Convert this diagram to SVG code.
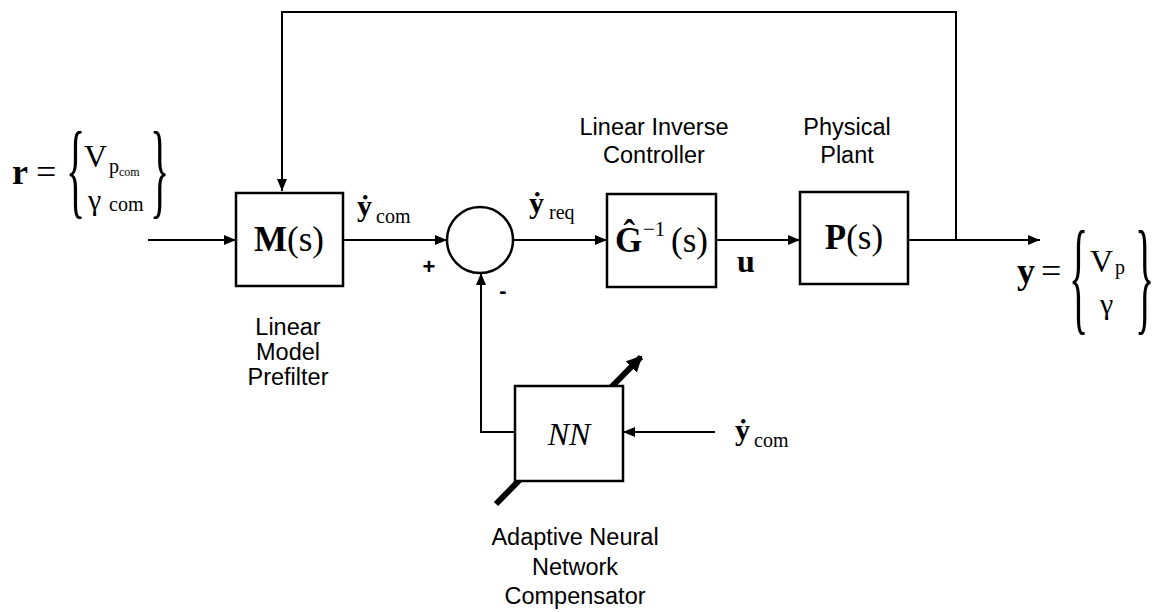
<svg xmlns="http://www.w3.org/2000/svg" width="1154" height="612" viewBox="0 0 1154 612">
<style>
.box{fill:#fff;stroke:#000;stroke-width:2.5}
.ln{fill:none;stroke:#000;stroke-width:2}
.lbl{font-family:"Liberation Sans",Arial,sans-serif;font-size:23.5px;fill:#000;text-anchor:middle}
.m{font-family:"Liberation Serif","DejaVu Serif",serif;fill:#000}
.b{font-weight:bold}
</style>
<defs>
<marker id="ah" viewBox="0 0 12 10" refX="12" refY="5" markerWidth="12" markerHeight="10" markerUnits="userSpaceOnUse" orient="auto">
<path d="M0,0 L12,5 L0,10 Z" fill="#000"/>
</marker>
<marker id="ahb" viewBox="0 0 16 16" refX="14" refY="8" markerWidth="16" markerHeight="16" markerUnits="userSpaceOnUse" orient="auto">
<path d="M0,0 L16,8 L0,16 Z" fill="#000"/>
</marker>
</defs>
<rect width="1154" height="612" fill="#fff"/>

<g id="connectors">
<line class="ln" x1="148" y1="240" x2="236" y2="240" marker-end="url(#ah)"/>
<line class="ln" x1="344" y1="240" x2="447" y2="240" marker-end="url(#ah)"/>
<line class="ln" x1="513" y1="240" x2="607" y2="240" marker-end="url(#ah)"/>
<line class="ln" x1="716" y1="240" x2="800" y2="240" marker-end="url(#ah)"/>
<line class="ln" x1="908" y1="240" x2="1040" y2="240" marker-end="url(#ah)"/>
<polyline class="ln" points="956,240 956,12 282,12 282,191" marker-end="url(#ah)"/>
<polyline class="ln" points="515,432 481,432 481,273" marker-end="url(#ah)"/>
<line class="ln" x1="715" y1="432" x2="623" y2="432" marker-end="url(#ah)"/>
<line x1="496" y1="504" x2="641" y2="357" stroke="#000" stroke-width="6" marker-end="url(#ahb)"/>
</g>

<g id="input-r">
<text class="m b" x="12" y="184" font-size="36">r</text>
<text class="m" x="36" y="184" font-size="36">=</text>
<text class="m" x="66" y="205" font-size="40" transform="translate(0,205) scale(1,2.66) translate(0,-205)">{</text>
<text class="m" x="84" y="167" font-size="32">V</text>
<text class="m" x="109" y="173" font-size="20">p</text>
<text class="m" x="119" y="176" font-size="12">com</text>
<text class="m" x="88" y="210" font-size="30">γ</text>
<text class="m" x="109" y="211" font-size="20">com</text>
<text class="m" x="150" y="205" font-size="40" transform="translate(0,205) scale(1,2.66) translate(0,-205)">}</text>
</g>

<g id="node-M">
<rect class="box" x="236" y="193" width="107" height="93"/>
<text class="m" x="289" y="251" font-size="35" text-anchor="middle"><tspan class="b">M</tspan>(s)</text>
</g>
<g id="label-ycom">
<text class="m b" x="357" y="216" font-size="30">ẏ</text>
<text class="m" x="376" y="223" font-size="20">com</text>
</g>
<g id="label-prefilter">
<text class="lbl" x="288" y="335">Linear</text>
<text class="lbl" x="288" y="360">Model</text>
<text class="lbl" x="288" y="385">Prefilter</text>
</g>

<g id="node-sum">
<circle cx="480" cy="240" r="33" fill="#fff" stroke="#000" stroke-width="2.5"/>
<text x="429" y="274" font-family="Liberation Sans,Arial,sans-serif" font-size="22" font-weight="bold" text-anchor="middle">+</text>
<text x="503" y="298" font-family="Liberation Sans,Arial,sans-serif" font-size="22" font-weight="bold" text-anchor="middle">-</text>
</g>
<g id="label-yreq">
<text class="m b" x="529" y="213" font-size="30">ẏ</text>
<text class="m" x="549" y="219" font-size="20">req</text>
</g>

<g id="node-G">
<rect class="box" x="607" y="194" width="109" height="93"/>
<text class="m b" x="615" y="252" font-size="35">Ĝ</text>
<text class="m" x="643" y="236" font-size="21">−1</text>
<text class="m" x="671" y="252" font-size="35">(s)</text>
<text class="lbl" x="654" y="135">Linear Inverse</text>
<text class="lbl" x="654" y="163">Controller</text>
</g>
<g id="label-u">
<text class="m b" x="737" y="272" font-size="32">u</text>
</g>

<g id="node-P">
<rect class="box" x="800" y="192" width="108" height="92"/>
<text class="m" x="854" y="249" font-size="35" text-anchor="middle"><tspan class="b">P</tspan>(s)</text>
<text class="lbl" x="847" y="135">Physical</text>
<text class="lbl" x="847" y="163">Plant</text>
</g>

<g id="output-y">
<text class="m b" x="1017" y="283" font-size="36">y</text>
<text class="m" x="1041" y="283" font-size="36">=</text>
<text class="m" x="1069" y="318" font-size="40" transform="translate(0,318) scale(1,3.2) translate(0,-318)">{</text>
<text class="m" x="1090" y="272" font-size="32">V</text>
<text class="m" x="1115" y="274" font-size="20">p</text>
<text class="m" x="1100" y="314" font-size="30">γ</text>
<text class="m" x="1135" y="318" font-size="40" transform="translate(0,318) scale(1,3.2) translate(0,-318)">}</text>
</g>

<g id="node-NN">
<rect class="box" x="515" y="386" width="108" height="95"/>
<text class="m" x="569" y="445" font-size="32" font-style="italic" text-anchor="middle">NN</text>
<text class="lbl" x="575" y="545">Adaptive Neural</text>
<text class="lbl" x="575" y="575">Network</text>
<text class="lbl" x="575" y="604">Compensator</text>
</g>
<g id="label-ycom2">
<text class="m b" x="735" y="440" font-size="30">ẏ</text>
<text class="m" x="754" y="447" font-size="20">com</text>
</g>
</svg>
